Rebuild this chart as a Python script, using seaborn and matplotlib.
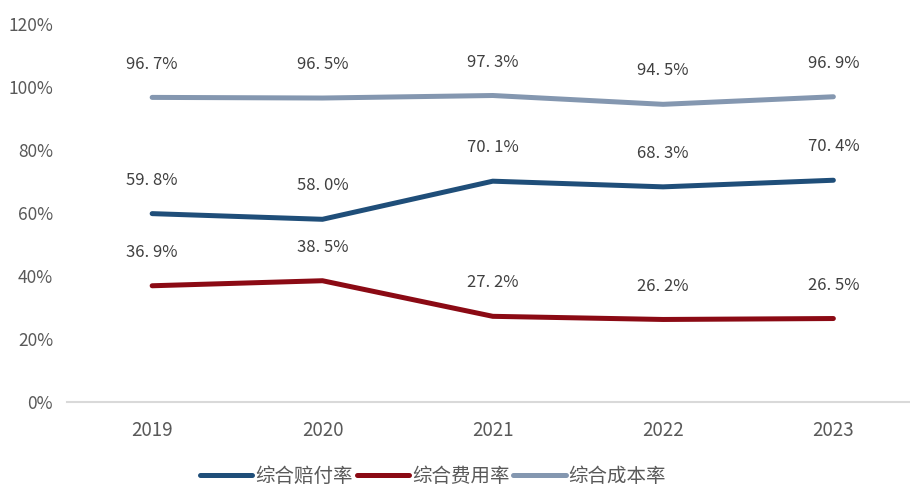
import pandas as pd
import seaborn as sns
import matplotlib.pyplot as plt

# Data
years = ['2019', '2020', '2021', '2022', '2023']
loss_ratio = [59.8, 58.0, 70.1, 68.3, 70.4]      # 综合赔付率
expense_ratio = [36.9, 38.5, 27.2, 26.2, 26.5]   # 综合费用率
combined_ratio = [96.7, 96.5, 97.3, 94.5, 96.9]  # 综合成本率

series_names = ['综合赔付率', '综合费用率', '综合成本率']
colors = ['#1F4E79', '#8B0A14', '#8497B0']

df = pd.DataFrame({'Year': years,
                   series_names[0]: loss_ratio,
                   series_names[1]: expense_ratio,
                   series_names[2]: combined_ratio})
df_melt = df.melt(id_vars='Year', var_name='Series', value_name='Value')
df_melt['x'] = df_melt['Year'].map({y: i for i, y in enumerate(years)})

sns.set_style("white")
plt.rcParams['font.family'] = ['Noto Sans CJK SC', 'DejaVu Sans']

fig = plt.figure(figsize=(9.1, 4.88), dpi=100)
ax = fig.add_axes([67 / 910, 1 - 402 / 488, 1 - 67 / 910, (402 - 24) / 488])

sns.lineplot(data=df_melt, x='x', y='Value', hue='Series', hue_order=series_names,
             palette=colors, linewidth=3.6, ax=ax, legend=True,
             solid_capstyle='round', solid_joinstyle='round')

# Data labels above each point
for _, row in df_melt.iterrows():
    txt = f"{row['Value']:.1f}%".replace('.', '. ')
    ax.annotate(txt, (row['x'], row['Value']), xytext=(0, 24),
                textcoords='offset points', ha='center', va='center',
                fontsize=12, color='#404040')

ax.set_xlim(-0.5, 4.45)
ax.set_ylim(0, 120)
ax.set_xticks(range(len(years)))
ax.set_xticklabels(years)
ax.set_yticks(range(0, 121, 20))
ax.set_yticklabels([f"{v}%" for v in range(0, 121, 20)])
ax.tick_params(axis='both', length=0, labelcolor='#595959')
ax.tick_params(axis='x', pad=13, labelsize=13.5)
ax.tick_params(axis='y', pad=10, labelsize=12.5)
ax.set_xlabel('')
ax.set_ylabel('')
for s in ['top', 'right', 'left']:
    ax.spines[s].set_visible(False)
ax.spines['bottom'].set_color('#D9D9D9')
ax.spines['bottom'].set_linewidth(1.5)

handles, labels = ax.get_legend_handles_labels()
ax.legend(handles, labels, loc='center', bbox_to_anchor=(433 / 910, 12 / 488),
          bbox_transform=fig.transFigure, ncol=3, frameon=False,
          fontsize=14, handlelength=2.7, handletextpad=0.15,
          columnspacing=0.2, labelcolor='#595959')

fig.savefig('out.png', dpi=100)
